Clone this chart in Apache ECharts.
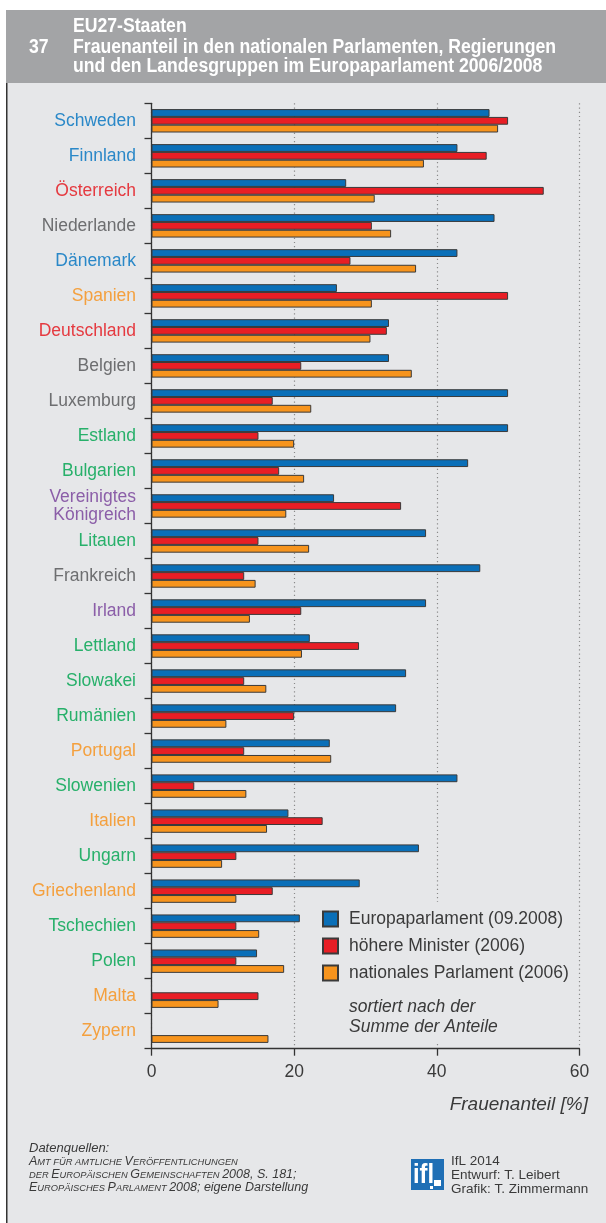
<!DOCTYPE html>
<html><head><meta charset="utf-8">
<script src="https://cdn.jsdelivr.net/npm/echarts@6/dist/echarts.min.js"></script>
<style>html,body{margin:0;padding:0;background:#fff}#c{width:606px;height:1223px}</style>
</head><body><div id="c"></div><script>
// ---- data ----
const categories = ['Schweden','Finnland','Österreich','Niederlande','Dänemark','Spanien','Deutschland','Belgien','Luxemburg','Estland','Bulgarien','Vereinigtes\nKönigreich','Litauen','Frankreich','Irland','Lettland','Slowakei','Rumänien','Portugal','Slowenien','Italien','Ungarn','Griechenland','Tschechien','Polen','Malta','Zypern'];
const euParl   = [47.4,42.9,27.3,48.1,42.9,26.0,33.3,33.3,50.0,50.0,44.4,25.6,38.5,46.1,38.5,22.2,35.7,34.3,25.0,42.9,19.2,37.5,29.2,20.8,14.8,0,0];
const minister = [50.0,47.0,55.0,30.9,27.9,50.0,33.0,21.0,17.0,15.0,17.9,35.0,15.0,13.0,21.0,29.1,13.0,20.0,13.0,6.0,24.0,11.9,17.0,11.9,11.9,15.0,0];
const natParl  = [48.6,38.2,31.3,33.6,37.1,30.9,30.7,36.5,22.4,20.0,21.4,18.9,22.1,14.6,13.8,21.1,16.1,10.5,25.2,13.3,16.2,9.9,11.9,15.1,18.6,9.4,16.4];
const seriesNames = ['Europaparlament (09.2008)','höhere Minister (2006)','nationales Parlament (2006)'];
const xTicks = [0,20,40,60];
const titleLines = ['EU27-Staaten','Frauenanteil in den nationalen Parlamenten, Regierungen','und den Landesgruppen im Europaparlament 2006/2008'];

// ---- styles ----
const FONT = "'Liberation Sans', Arial, sans-serif";
const HFONT = "bold 19.5px 'Liberation Sans', Arial, sans-serif";
const groupColor = {
  blue:'#2a88c8', red:'#e53a40', grey:'#6d6e70', orange:'#f4a03e', green:'#27b06a', purple:'#8b5ea8'
};
const labelGroup = {
  'Schweden':'blue','Finnland':'blue','Dänemark':'blue',
  'Österreich':'red','Deutschland':'red',
  'Niederlande':'grey','Belgien':'grey','Luxemburg':'grey','Frankreich':'grey',
  'Spanien':'orange','Portugal':'orange','Italien':'orange','Griechenland':'orange','Malta':'orange','Zypern':'orange',
  'Vereinigtes\nKönigreich':'purple','Irland':'purple'
};
const barColors = ['#0a6fb8','#e81e25','#f7941d'];

// condensed header: measure and squeeze to the reference width
const mctx = document.createElement('canvas').getContext('2d');
mctx.font = HFONT;
const hScale = 483 / mctx.measureText(titleLines[1]).width;

const chart = echarts.init(document.getElementById('c'), null, {renderer:'canvas'});
const barSeries = [euParl, minister, natParl].map((d, i) => ({
  name: seriesNames[i], type: 'bar', data: d,
  barWidth: 7.8, barGap: '0%',
  itemStyle: { color: barColors[i], borderColor: '#3a3a3a', borderWidth: 1 },
  emphasis: { disabled: true },
  animation: false
}));

const rich = { b: { fontSize: 12.5, fontStyle: 'italic', fill: '#3a3a3a', fontFamily: FONT }, s: { fontSize: 9.3, fontStyle: 'italic', fill: '#3a3a3a', fontFamily: FONT } };

chart.setOption({
  animation: false,
  textStyle: { fontFamily: FONT },
  grid: { left: 151.5, right: 26.6, top: 103.3, bottom: 174.3, containLabel: false, outerBoundsMode: 'none' },
  xAxis: {
    type: 'value', min: 0, max: 60, interval: 20,
    axisLine: { show: true, lineStyle: { color: '#333', width: 1.3 } },
    axisTick: { show: true, length: 7, lineStyle: { color: '#333', width: 1.3 } },
    axisLabel: { fontSize: 17.5, color: '#3a3a3a', margin: 14, fontFamily: FONT,
      formatter: v => xTicks.includes(v) ? String(v) : '' },
    splitLine: { show: true, lineStyle: { color: '#8a8a8a', type: [1.2, 3], width: 1.2 } }
  },
  yAxis: {
    type: 'category', data: categories, inverse: true,
    axisLine: { show: true, lineStyle: { color: '#333', width: 1.3 } },
    axisTick: { show: true, length: 7, lineStyle: { color: '#333', width: 1.3 } },
    axisLabel: { fontSize: 17.5, lineHeight: 18.5, margin: 15.5, fontFamily: FONT, align: 'right',
      color: (v) => groupColor[labelGroup[v] || 'green'] },
    splitLine: { show: false }
  },
  legend: {
    orient: 'vertical', left: 317, top: 905, itemWidth: 15, itemHeight: 15, itemGap: 9,
    icon: 'rect', selectedMode: false,
    textStyle: { fontSize: 17.5, color: '#3a3a3a', lineHeight: 15, padding: [0,0,0,6], fontFamily: FONT },
    data: seriesNames
  },
  series: barSeries,
  graphic: [
    // panel background
    { type: 'rect', z: -10, silent: true, shape: { x: 6, y: 83, width: 600, height: 1140 }, style: { fill: '#e6e7e9' } },
    { type: 'line', z: -9, silent: true, shape: { x1: 6.75, y1: 83, x2: 6.75, y2: 1223 }, style: { stroke: '#333', lineWidth: 1.5 } },
    // header band
    { type: 'rect', z: -10, silent: true, shape: { x: 6, y: 10, width: 600, height: 73 }, style: { fill: '#a3a4a6' } },
    { type: 'text', silent: true, x: 73, y: 27, scaleX: hScale, style: { text: titleLines[0], fill: '#fff', font: HFONT, verticalAlign: 'middle' } },
    { type: 'text', silent: true, x: 29, y: 48, scaleX: hScale, style: { text: '37', fill: '#fff', font: HFONT, verticalAlign: 'middle' } },
    { type: 'text', silent: true, x: 73, y: 48, scaleX: hScale, style: { text: titleLines[1], fill: '#fff', font: HFONT, verticalAlign: 'middle' } },
    { type: 'text', silent: true, x: 73, y: 67, scaleX: hScale, style: { text: titleLines[2], fill: '#fff', font: HFONT, verticalAlign: 'middle' } },
    // legend backdrop hiding grid dots
    { type: 'rect', z: 1, silent: true, shape: { x: 306, y: 902, width: 268, height: 142 }, style: { fill: '#e6e7e9' } },
    { type: 'text', z: 5, silent: true, x: 349, y: 1007, style: { text: 'sortiert nach der', fill: '#3a3a3a', font: `italic 17.5px ${FONT}`, verticalAlign: 'middle' } },
    { type: 'text', z: 5, silent: true, x: 349, y: 1027, style: { text: 'Summe der Anteile', fill: '#3a3a3a', font: `italic 17.5px ${FONT}`, verticalAlign: 'middle' } },
    // axis name
    { type: 'text', silent: true, x: 588, y: 1105, style: { text: 'Frauenanteil [%]', fill: '#3a3a3a', font: `italic 19px ${FONT}`, align: 'right', verticalAlign: 'middle' } },
    // sources
    { type: 'text', silent: true, x: 29, y: 1148, style: { text: 'Datenquellen:', fill: '#3a3a3a', font: `italic 13px ${FONT}`, verticalAlign: 'middle' } },
    { type: 'text', silent: true, x: 29, y: 1162, style: { text: '{b|A}{s|MT FÜR AMTLICHE }{b|V}{s|ERÖFFENTLICHUNGEN}', verticalAlign: 'middle', rich } },
    { type: 'text', silent: true, x: 29, y: 1175, style: { text: '{s|DER }{b|E}{s|UROPÄISCHEN }{b|G}{s|EMEINSCHAFTEN }{b|2008, S. 181;}', verticalAlign: 'middle', rich } },
    { type: 'text', silent: true, x: 29, y: 1188, style: { text: '{b|E}{s|UROPÄISCHES }{b|P}{s|ARLAMENT }{b|2008; eigene Darstellung}', verticalAlign: 'middle', rich } },
    // logo
    { type: 'rect', silent: true, shape: { x: 411, y: 1159, width: 33, height: 31 }, style: { fill: '#1f6fb5' } },
    { type: 'text', silent: true, x: 413, y: 1175, scaleX: 0.85, style: { text: 'ifl', fill: '#fff', font: "bold 28px 'Liberation Sans', Arial, sans-serif", verticalAlign: 'middle' } },
    { type: 'rect', silent: true, shape: { x: 434, y: 1180, width: 7, height: 6 }, style: { fill: '#fff' } },
    { type: 'rect', silent: true, shape: { x: 430, y: 1186, width: 3, height: 3 }, style: { fill: '#fff' } },
    { type: 'text', silent: true, x: 451, y: 1161, style: { text: 'IfL 2014', fill: '#3a3a3a', font: `13.5px ${FONT}`, verticalAlign: 'middle' } },
    { type: 'text', silent: true, x: 451, y: 1175, style: { text: 'Entwurf: T. Leibert', fill: '#3a3a3a', font: `13.5px ${FONT}`, verticalAlign: 'middle' } },
    { type: 'text', silent: true, x: 451, y: 1189, style: { text: 'Grafik: T. Zimmermann', fill: '#3a3a3a', font: `13.5px ${FONT}`, verticalAlign: 'middle' } }
  ]
});
</script></body></html>
